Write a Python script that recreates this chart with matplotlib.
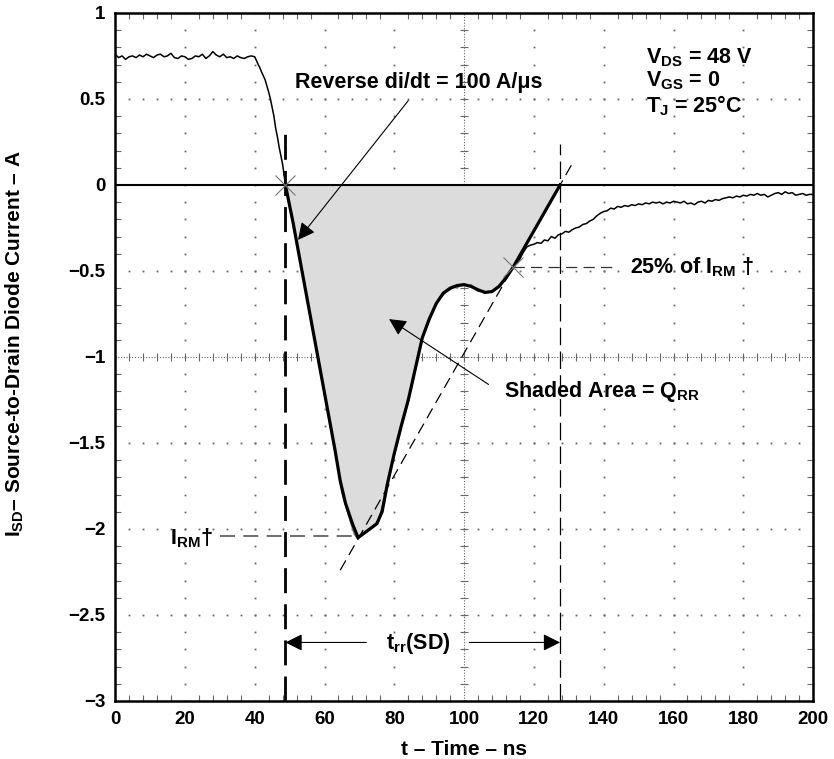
import numpy as np
import matplotlib
matplotlib.use('Agg')
import matplotlib.pyplot as plt

plt.rcParams['font.family'] = ['Liberation Sans', 'DejaVu Sans']
plt.rcParams['font.weight'] = 'bold'
plt.rcParams['mathtext.fontset'] = 'custom'
plt.rcParams['mathtext.rm'] = 'Liberation Sans:bold'
plt.rcParams['mathtext.it'] = 'Liberation Sans:bold'
plt.rcParams['mathtext.bf'] = 'Liberation Sans:bold'

# key points of the recovery
t_rr_start = 48.8
t_rr_end = 127.5
t_rm = 69.6
i_rm = -2.04
t_25 = 114.0
i_25 = -0.48

# smoothed (thick) recovery curve, from zero crossing to the 25% point
t_fit = [48.8, 51, 53, 55, 57, 59, 61, 63, 64.5, 66, 68, 69.6, 71, 73, 75, 76.5,
         78, 80, 82, 84, 86, 88, 90, 92, 94, 96, 98, 100, 102, 104, 106, 108,
         110, 112, 114]
i_fit = [0.0, -0.22, -0.44, -0.66, -0.88, -1.10, -1.32, -1.54, -1.72, -1.85, -1.97,
         -2.05, -2.03, -2.00, -1.97, -1.90, -1.74, -1.56, -1.40, -1.25, -1.07, -0.89,
         -0.78, -0.69, -0.63, -0.60, -0.585, -0.58, -0.59, -0.61, -0.625, -0.62,
         -0.59, -0.54, -0.48]

# raw scope trace
t_pre = list(range(0, 41))
i_pre = [0.76, 0.74, 0.75, 0.73, 0.745, 0.75, 0.74, 0.755, 0.745, 0.76, 0.75, 0.74,
         0.755, 0.76, 0.745, 0.75, 0.765, 0.74, 0.735, 0.75, 0.745, 0.73, 0.735, 0.75,
         0.745, 0.76, 0.735, 0.75, 0.775, 0.755, 0.745, 0.76, 0.74, 0.745, 0.735, 0.75,
         0.74, 0.735, 0.745, 0.75, 0.745]
t_fall = [41, 41.5, 42, 43, 44, 44.5, 45, 45.5, 46, 46.5, 47, 47.5, 48, 48.4]
i_fall = [0.70, 0.68, 0.655, 0.61, 0.54, 0.50, 0.45, 0.40, 0.33, 0.28, 0.22, 0.17,
          0.12, 0.06]
t_mid = [48.8, 49.5, 51, 53, 55, 57, 59, 61, 63, 65, 67, 68.5, 69.5, 70.5, 72, 73, 74,
         75, 76, 77, 78, 80, 82, 84, 86, 87, 88, 89, 90, 91, 92, 93, 94, 95, 96, 97,
         98, 99, 100, 101, 102, 103, 104, 105, 106, 107, 108, 109, 110, 111, 112, 113]
i_mid = [0.0, -0.07, -0.23, -0.45, -0.67, -0.89, -1.11, -1.33, -1.55, -1.79, -1.93,
         -2.03, -2.06, -2.04, -2.02, -2.0, -1.98, -1.96, -1.91, -1.83, -1.74, -1.57,
         -1.41, -1.26, -1.08, -0.98, -0.89, -0.83, -0.79, -0.73, -0.70, -0.66, -0.64,
         -0.62, -0.61, -0.595, -0.60, -0.58, -0.575, -0.59, -0.58, -0.60, -0.62,
         -0.615, -0.63, -0.62, -0.625, -0.60, -0.59, -0.57, -0.545, -0.51]
t_tail = list(range(114, 201))
i_tail = [-0.48, -0.455, -0.43, -0.39, -0.36, -0.35, -0.345, -0.335, -0.34, -0.32,
          -0.325, -0.30, -0.31, -0.29, -0.285, -0.27, -0.275, -0.26, -0.25, -0.245,
          -0.23, -0.225, -0.21, -0.20, -0.18, -0.165, -0.155, -0.15, -0.135, -0.14,
          -0.125, -0.13, -0.12, -0.125, -0.115, -0.12, -0.11, -0.115, -0.105, -0.11,
          -0.10, -0.105, -0.10, -0.11, -0.10, -0.105, -0.095, -0.10, -0.105, -0.095,
          -0.11, -0.105, -0.115, -0.10, -0.095, -0.105, -0.09, -0.095, -0.085, -0.09,
          -0.08, -0.075, -0.07, -0.075, -0.065, -0.07, -0.06, -0.065, -0.055, -0.06,
          -0.05, -0.06, -0.055, -0.07, -0.06, -0.05, -0.045, -0.055, -0.04, -0.05,
          -0.045, -0.06, -0.055, -0.05, -0.06, -0.055, -0.055]

x_ticks = [0, 20, 40, 60, 80, 100, 120, 140, 160, 180, 200]
y_ticks = [-3, -2.5, -2, -1.5, -1, -0.5, 0, 0.5, 1]
y_labels = ['\u22123', '\u22122.5', '\u22122', '\u22121.5', '\u22121', '\u22120.5', '0', '0.5', '1']

fig = plt.figure(figsize=(8.34, 7.59), dpi=100)
ax = fig.add_axes([0.138, 0.0765, 0.837, 0.9065])
ax.set_xlim(0, 200)
ax.set_ylim(-3, 1)

# scope graticule
gcol = '#666666'
ydots = np.arange(-3, 1.001, 0.1)
xdots = np.arange(0, 200.1, 4)
for gx in range(20, 200, 20):
    if gx == 100:
        continue
    ax.plot([gx] * len(ydots), ydots, ls='none', marker='s', ms=1.3, color=gcol, mew=0)
for gy in [-2.5, -2, -1.5, -0.5, 0.5]:
    ax.plot(xdots, [gy] * len(xdots), ls='none', marker='s', ms=1.3, color=gcol, mew=0)
ax.axvline(100, color=gcol, lw=0.8, ls=(0, (1, 1.5)))
ax.axhline(-1, color=gcol, lw=0.8, ls=(0, (1, 1.5)))
ax.plot([100] * len(ydots), ydots, ls='none', marker='_', ms=6, color=gcol, mew=0.8)
ax.plot(xdots, [-1] * len(xdots), ls='none', marker='|', ms=6, color=gcol, mew=0.8)

# zero line
ax.axhline(0, color='black', lw=1.5, zorder=3)

# shaded Q_RR area
t_area = t_fit + [t_rr_end]
i_area = i_fit + [0.0]
ax.fill_between(t_area, i_area, 0, color='#dcdcdc', zorder=2)

# raw trace
ax.plot(t_pre + t_fall, i_pre + i_fall, color='black', lw=1.1, zorder=4)
ax.plot(t_mid, i_mid, color='#777777', lw=1.0, zorder=4)
ax.plot(t_tail, i_tail, color='black', lw=1.1, zorder=4)
ax.plot([t_fall[-1], t_mid[0]], [i_fall[-1], i_mid[0]], color='black', lw=1.1, zorder=4)

# smoothed curve and straight extrapolation
ax.plot(t_fit + [t_rr_end], i_fit + [0.0], color='black', lw=2.3, zorder=5,
        solid_joinstyle='round')

# tangent through 25% point and zero crossing
slope = -i_25 / (t_rr_end - t_25)
t_tan = np.array([64.5, 131.5])
ax.plot(t_tan, slope * (t_tan - t_rr_end), color='black', lw=0.9, ls=(0, (9, 5)), zorder=4)

# t_rr limits
ax.plot([t_rr_start, t_rr_start], [-3, 0.31], color='black', lw=2.0, ls=(0, (9, 4)), zorder=4)
ax.plot([t_rr_end, t_rr_end], [-3, 0.24], color='black', lw=0.9, ls=(0, (14, 5)), zorder=4)

# I_RM and 25% levels
ax.plot([30, t_rm - 1.5], [i_rm, i_rm], color='#555555', lw=1.2, ls=(0, (9, 5)), zorder=4)
ax.plot([t_25, 143], [i_25, i_25], color='#333333', lw=0.9, ls=(0, (9, 5)), zorder=4)

ax.plot([t_rr_start, t_25], [0, i_25], ls='none', marker='x', ms=15, mew=0.8,
        color='#777777', zorder=6)

fs = 15.5
arrow = dict(arrowstyle='-|>', lw=0.8, color='black', mutation_scale=26,
             shrinkA=0, shrinkB=0)
ax.text(51.6, 0.564, 'Reverse di/dt = 100 A/\u03bcs', fontsize=fs, va='baseline', ha='left')
ax.annotate('', xy=(52.4, -0.32), xytext=(84, 0.49), arrowprops=arrow)
ax.text(152, 0.709, 'V$_{DS}$ = 48 V', fontsize=fs, va='baseline')
ax.text(152, 0.57, 'V$_{GS}$ = 0', fontsize=fs, va='baseline')
ax.text(152, 0.424, 'T$_J$ = 25\u00b0C', fontsize=fs, va='baseline')
ax.text(147.6, -0.517, '25% of I$_{RM}$ \u2020', fontsize=fs, va='baseline')
ax.text(111.5, -1.233, 'Shaded Area = Q$_{RR}$', fontsize=fs, va='baseline')
ax.annotate('', xy=(78.5, -0.78), xytext=(107, -1.16), arrowprops=arrow)
ax.text(28, -2.09, 'I$_{RM}$\u2020', fontsize=fs, va='baseline', ha='right')
ax.text(86.8, -2.70, 't$_{rr}$(SD)', fontsize=fs, va='baseline', ha='center')
ax.annotate('', xy=(t_rr_start, -2.66), xytext=(72, -2.66), arrowprops=arrow)
ax.annotate('', xy=(t_rr_end, -2.66), xytext=(101.5, -2.66), arrowprops=arrow)

ax.set_xticks(x_ticks)
ax.set_yticks(y_ticks)
ax.set_yticklabels(y_labels)
ax.set_xticks(np.arange(0, 201, 4), minor=True)
ax.set_yticks(np.arange(-3, 1.001, 0.1), minor=True)
ax.tick_params(which='major', length=0, labelsize=13.5, pad=7)
ax.tick_params(which='minor', direction='in', length=4, width=0.8, color=gcol,
               top=True, right=True)
for lab in ax.get_xticklabels() + ax.get_yticklabels():
    lab.set_fontweight('bold')
for s in ax.spines.values():
    s.set_linewidth(1.8)

ax.set_xlabel('t \u2013 Time \u2013 ns', fontsize=15, fontweight='bold', labelpad=9)
ax.set_ylabel('I$_{SD}$\u2013 Source-to-Drain Diode Current \u2013 A', fontsize=15,
              fontweight='bold')
ax.yaxis.set_label_coords(-0.127, 0.52)

fig.savefig('out.png', dpi=100)
